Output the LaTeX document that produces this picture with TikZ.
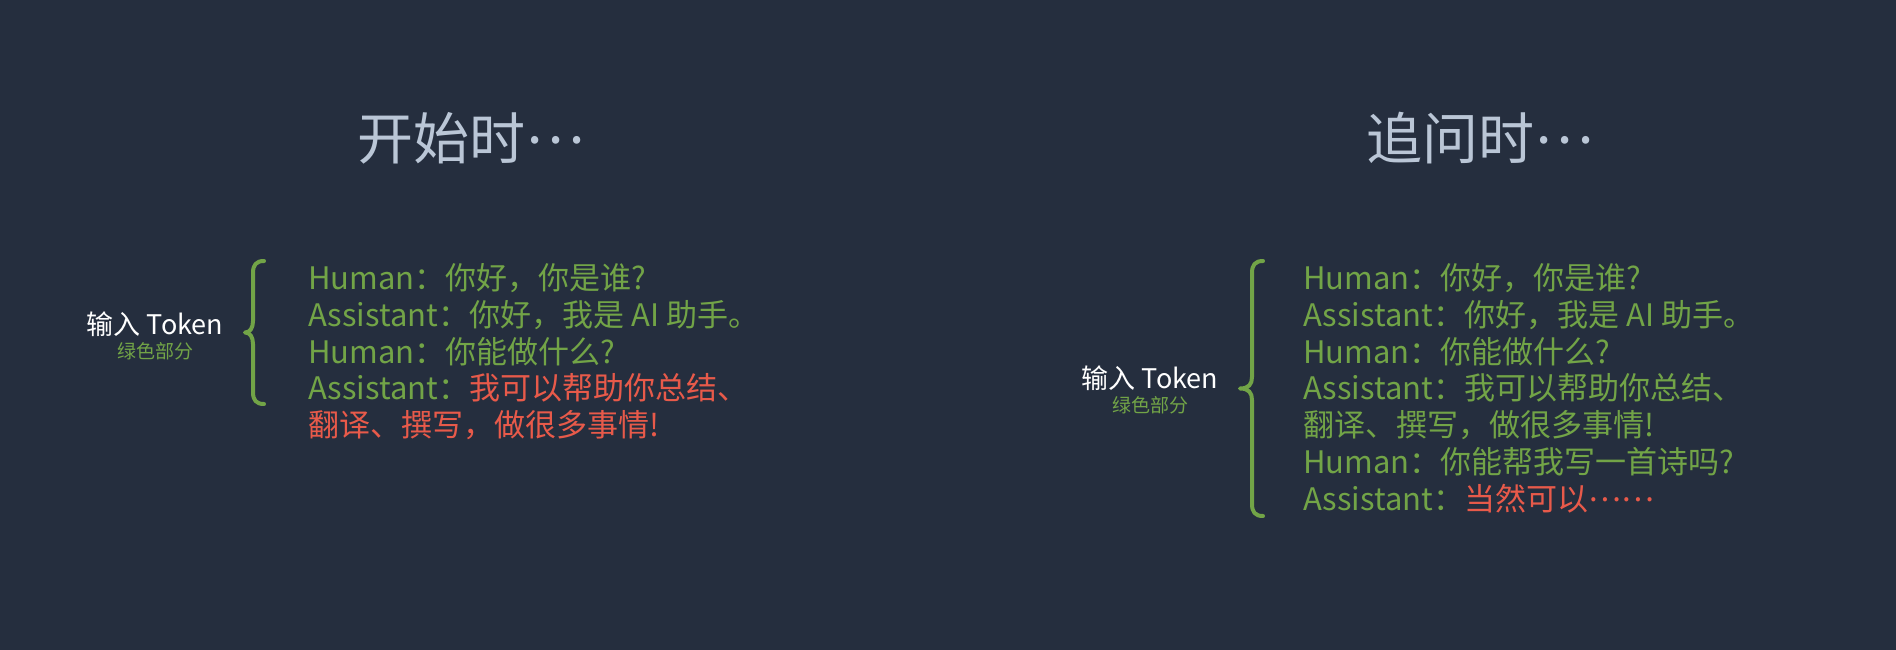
\documentclass[tikz,border=0pt]{standalone}
\usepackage{fontspec}
\setmainfont{Noto Sans CJK SC}
\definecolor{bg}{HTML}{252E3E}
\definecolor{grn}{HTML}{72A447}
\definecolor{rd}{HTML}{E85A4A}
\definecolor{ttl}{HTML}{BAC6D6}
\newcommand\midell{\raisebox{0.3em}{…}}
\begin{document}
\begin{tikzpicture}[x=1pt,y=-1pt,
 ln/.style={anchor=base west, inner sep=0pt, text=grn, font=\fontsize{31}{36}\selectfont},
 ttlnode/.style={anchor=base west, inner sep=0pt, text=ttl, font=\fontsize{56}{60}\selectfont},
 lbl/.style={anchor=base, inner sep=0pt, text=white, font=\fontsize{27}{30}\selectfont},
 sublbl/.style={anchor=base, inner sep=0pt, text=grn, font=\fontsize{19}{22}\selectfont},
 bracepath/.style={draw=grn, line width=4pt, line cap=round, line join=round}]
\fill[bg] (0,0) rectangle (1896,650);
\useasboundingbox (0,0) rectangle (1896,650);
% titles
\node[ttlnode] (t1) at (357,160) {开始时\midell};
\node[ttlnode] (t2) at (1366,160) {追问时\midell};
% left block
\node[lbl] (l1) at (155,334) {输入 Token};
\node[sublbl] (s1) at (155,358) {绿色部分};
\draw[bracepath] (264,261) .. controls (256,261) and (253,265) .. (253,273) -- (253,321)
  .. controls (253,328) and (250,332.5) .. (245,332.5)
  .. controls (250,332.5) and (253,337) .. (253,344) -- (253,392)
  .. controls (253,400) and (256,404) .. (264,404);
\node[ln] (a1) at (308,289.5) {Human：你好，你是谁?};
\node[ln] (a2) at (308,326.3) {Assistant：你好，我是 AI 助手。};
\node[ln] (a3) at (308,363.1) {Human：你能做什么?};
\node[ln] (a4) at (308,399.9) {Assistant：\textcolor{rd}{我可以帮助你总结、}};
\node[ln] (a5) at (308,436.7) {\textcolor{rd}{翻译、撰写，做很多事情!}};
% right block
\node[lbl] (l2) at (1150,388) {输入 Token};
\node[sublbl] (s2) at (1150,412) {绿色部分};
\draw[bracepath] (1263,261) .. controls (1255,261) and (1252,265) .. (1252,273) -- (1252,377)
  .. controls (1252,384) and (1249,388.5) .. (1240,388.5)
  .. controls (1249,388.5) and (1252,393) .. (1252,400) -- (1252,504)
  .. controls (1252,512) and (1255,516) .. (1263,516);
\node[ln] (b1) at (1303,289.5) {Human：你好，你是谁?};
\node[ln] (b2) at (1303,326.3) {Assistant：你好，我是 AI 助手。};
\node[ln] (b3) at (1303,363.1) {Human：你能做什么?};
\node[ln] (b4) at (1303,399.9) {Assistant：我可以帮助你总结、};
\node[ln] (b5) at (1303,436.7) {翻译、撰写，做很多事情!};
\node[ln] (b6) at (1303,473.5) {Human：你能帮我写一首诗吗?};
\node[ln] (b7) at (1303,510.3) {Assistant：\textcolor{rd}{当然可以\midell\midell}};
\end{tikzpicture}
\end{document}
